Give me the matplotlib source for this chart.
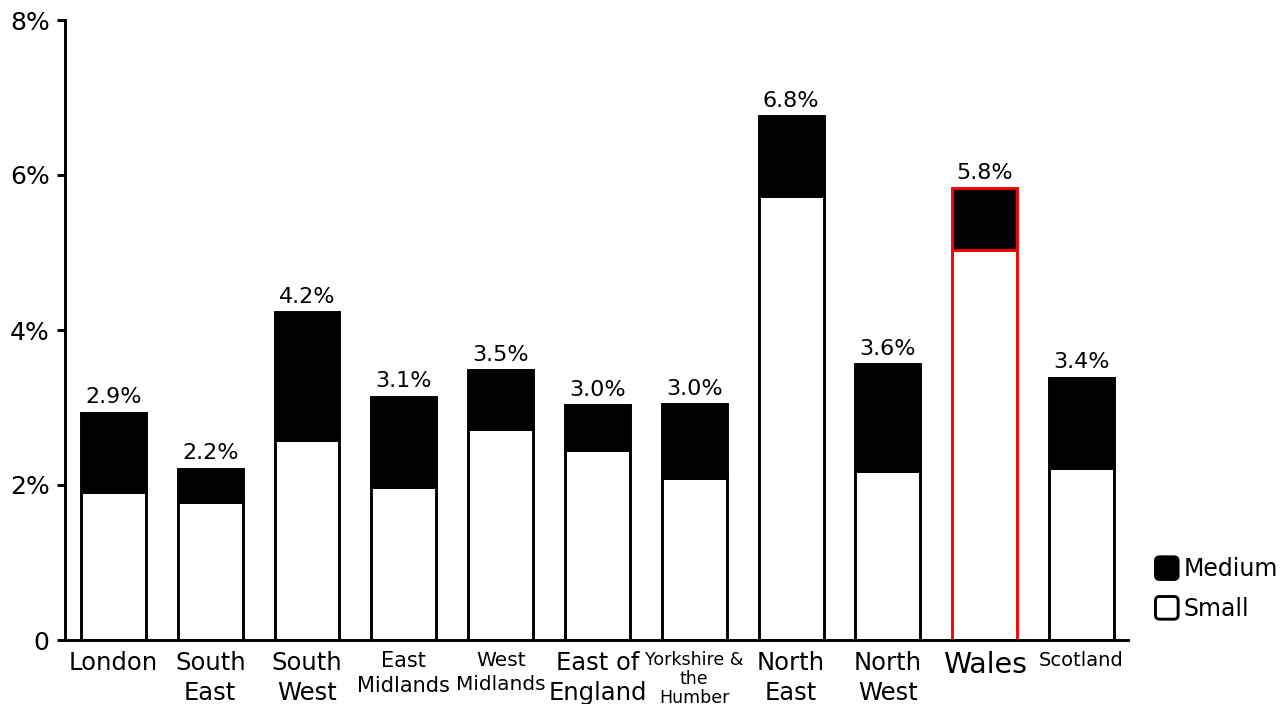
import matplotlib
matplotlib.use("Agg")
import matplotlib.pyplot as plt
from matplotlib.patches import Patch, FancyBboxPatch
from matplotlib.legend_handler import HandlerPatch

# Regional share of businesses, split by size band (percent)
regions = ["London", "South\nEast", "South\nWest", "East\nMidlands", "West\nMidlands",
           "East of\nEngland", "Yorkshire &\nthe\nHumber", "North\nEast", "North\nWest",
           "Wales", "Scotland"]
small = [1.91, 1.78, 2.58, 1.97, 2.72, 2.45, 2.09, 5.73, 2.18, 5.03, 2.22]
medium = [1.02, 0.43, 1.65, 1.17, 0.76, 0.58, 0.95, 1.03, 1.38, 0.80, 1.16]
highlight = "Wales"
y_ticks = [0, 2, 4, 6, 8]
y_tick_labels = ["0", "2%", "4%", "6%", "8%"]

label_sizes = {"London": 17.5, "South\nEast": 17.5, "South\nWest": 17.5,
               "East\nMidlands": 15, "West\nMidlands": 14.5, "East of\nEngland": 17.5,
               "Yorkshire &\nthe\nHumber": 12.5, "North\nEast": 17.5, "North\nWest": 17.5,
               "Wales": 20.5, "Scotland": 14}

plt.rcParams["font.family"] = ["DejaVu Sans"]

LW = 2.1

fig = plt.figure(figsize=(12.86, 7.04), dpi=100)
ax = fig.add_axes([65 / 1286, 64 / 704, 1063 / 1286, 620 / 704])

x = list(range(len(regions)))
edge = ["red" if r == highlight else "black" for r in regions]
totals = [s + m for s, m in zip(small, medium)]

ax.bar(x, small, width=0.67, color="white", edgecolor=edge, linewidth=LW, zorder=2)
ax.bar(x, medium, bottom=small, width=0.67, color="black", edgecolor=edge,
       linewidth=LW, zorder=2)

for xi, t in zip(x, totals):
    ax.annotate(f"{t:.1f}%", (xi, t), xytext=(0, 4), textcoords="offset points",
                ha="center", va="bottom", fontsize=16)

ax.set_xlim(-0.5, 10.48)
ax.set_ylim(0, 8)
ax.set_yticks(y_ticks)
ax.set_yticklabels(y_tick_labels, fontsize=18)
ax.set_xticks(x)
ax.set_xticklabels(regions)
for lbl, r in zip(ax.get_xticklabels(), regions):
    lbl.set_fontsize(label_sizes[r])
    lbl.set_linespacing(1.05 if r.startswith("Yorkshire") else 1.3)
    lbl.set_verticalalignment("top")

ax.tick_params(axis="x", length=0, pad=8)
ax.tick_params(axis="y", length=6, width=LW, pad=5)
for side in ("top", "right"):
    ax.spines[side].set_visible(False)
for side in ("left", "bottom"):
    ax.spines[side].set_linewidth(LW)


class RoundedSquare(HandlerPatch):
    def create_artists(self, legend, orig_handle, xdescent, ydescent, width, height,
                       fontsize, trans):
        size = min(width, height)
        p = FancyBboxPatch((-xdescent + (width - size) / 2, -ydescent + (height - size) / 2),
                           size, size, boxstyle="round,pad=0,rounding_size=3",
                           facecolor=orig_handle.get_facecolor(),
                           edgecolor="black", linewidth=LW, transform=trans)
        return [p]


handles = [Patch(facecolor="black", edgecolor="black", label="Medium"),
           Patch(facecolor="white", edgecolor="black", label="Small")]
fig.legend(handles=handles, loc="upper left", bbox_to_anchor=(1142 / 1286, 1 - 545 / 704),
           frameon=False, fontsize=17, handlelength=1.1, handleheight=1.1,
           handletextpad=0.15, labelspacing=0.65, borderpad=0,
           handler_map={Patch: RoundedSquare()})

fig.savefig("out.png", dpi=100)
